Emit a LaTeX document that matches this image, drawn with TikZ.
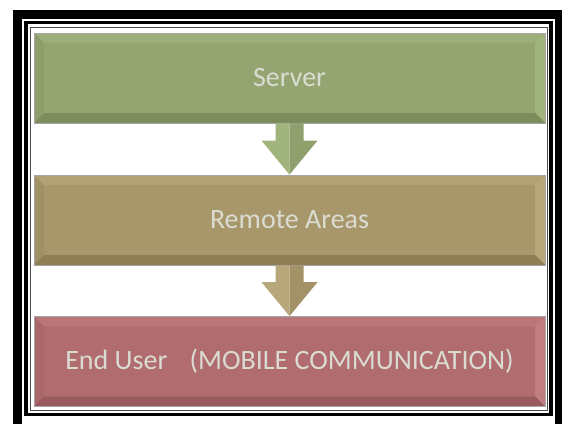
\documentclass[tikz,border=0pt]{standalone}
\usepackage{fontspec}
\setmainfont{Carlito}
\usetikzlibrary{calc}
\definecolor{gbase}{RGB}{148,165,113}
\definecolor{glight}{RGB}{162,180,126}
\definecolor{gdark}{RGB}{124,140,92}
\definecolor{tbase}{RGB}{168,151,107}
\definecolor{tlight}{RGB}{183,167,123}
\definecolor{tdark}{RGB}{142,126,86}
\definecolor{rbase}{RGB}{177,108,111}
\definecolor{rlight}{RGB}{192,126,128}
\definecolor{rdark}{RGB}{152,90,94}
\definecolor{txt}{RGB}{218,220,210}
\tikzset{
  panel/.style n args={3}{draw=black!35, line width=0.8pt, fill=#1,
    minimum width=511pt, minimum height=90pt, inner sep=0pt,
    font=\fontsize{28}{32}\selectfont, text=txt,
    path picture={
      \fill[#1!40!#2] (path picture bounding box.north west) -- (path picture bounding box.north east)
        -- ([shift={(-10pt,-10pt)}]path picture bounding box.north east)
        -- ([shift={(10pt,-10pt)}]path picture bounding box.north west) -- cycle;
      \fill[#1!70!#3] (path picture bounding box.north west) -- ([shift={(10pt,-10pt)}]path picture bounding box.north west)
        -- ([shift={(10pt,10pt)}]path picture bounding box.south west) -- (path picture bounding box.south west) -- cycle;
      \fill[#2] (path picture bounding box.north east) -- ([shift={(-10pt,-10pt)}]path picture bounding box.north east)
        -- ([shift={(-10pt,10pt)}]path picture bounding box.south east) -- (path picture bounding box.south east) -- cycle;
      \fill[#3] (path picture bounding box.south west) -- (path picture bounding box.south east)
        -- ([shift={(-10pt,10pt)}]path picture bounding box.south east)
        -- ([shift={(10pt,10pt)}]path picture bounding box.south west) -- cycle;
    }},
  frameline/.style={draw=black, line width=#1},
}
\newcommand\bevelarrow[4]{%
  \fill[#3] ($(#1.south)+(-14pt,0pt)$) -- ($(#2.north)+(-14pt,34pt)$) -- ($(#2.north)+(-28pt,34pt)$)
     -- (#2.north) -- (#1.south) -- cycle;
  \fill[#4] ($(#1.south)+(14pt,0pt)$) -- ($(#2.north)+(14pt,34pt)$) -- ($(#2.north)+(28pt,34pt)$)
     -- (#2.north) -- (#1.south) -- cycle;
}
\begin{document}
\begin{tikzpicture}[x=1pt,y=-1pt]
\useasboundingbox (0,0) rectangle (562,423);
\clip (0,0) rectangle (562,423);
\fill[white] (0,0) rectangle (562,423);
% frame
\draw[frameline=9pt] (17.5,14.5) rectangle (559,440);
\draw[frameline=3.5pt] (26,22.5) rectangle (551,414.5);
\draw[draw=black!70, line width=1.2pt] (30.5,27.5) rectangle (547.5,410.5);
% panels
\node[panel={gbase}{glight}{gdark}] (server) at (289.5,78) {Server};
\node[panel={tbase}{tlight}{tdark}] (remote) at (289.5,220) {Remote Areas};
\node[panel={rbase}{rlight}{rdark}] (user) at (289.5,361.5) {End User\hspace{0.8em}(MOBILE COMMUNICATION)};
% arrows
\bevelarrow{server}{remote}{glight}{gbase!80!gdark}
\bevelarrow{remote}{user}{tlight}{tbase!80!tdark}
\end{tikzpicture}
\end{document}
